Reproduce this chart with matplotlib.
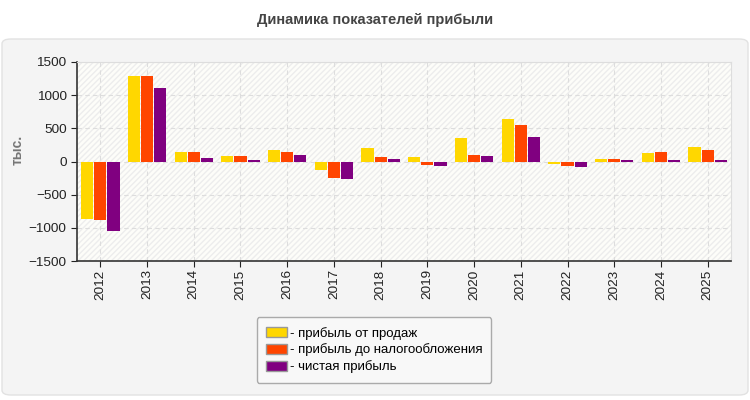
import numpy as np
import matplotlib.pyplot as plt
from matplotlib.patches import FancyBboxPatch, Rectangle, Patch

plt.rcParams['font.family'] = ['Liberation Sans', 'DejaVu Sans']

years = ['2012', '2013', '2014', '2015', '2016', '2017', '2018',
         '2019', '2020', '2021', '2022', '2023', '2024', '2025']
sales_profit = [-865, 1295, 140, 80, 170, -130, 200, 65, 350, 635, -40, 35, 125, 215]
pretax_profit = [-880, 1295, 140, 80, 140, -250, 65, -55, 95, 545, -70, 35, 140, 170]
net_profit = [-1045, 1115, 50, 20, 95, -265, 35, -70, 80, 365, -85, 20, 20, 20]

series = [
    (sales_profit, '- прибыль от продаж', '#FFD700'),
    (pretax_profit, '- прибыль до налогообложения', '#FF4500'),
    (net_profit, '- чистая прибыль', '#800080'),
]

fig = plt.figure(figsize=(7.5, 4), dpi=100)
fig.patch.set_facecolor('white')

# grey rounded panel behind the chart
panel = FancyBboxPatch((2 / 750, 5 / 400), 746 / 750, 356 / 400,
                       boxstyle='round,pad=0,rounding_size=0.012',
                       transform=fig.transFigure, facecolor='#f4f4f4',
                       edgecolor='#e2e2e2', linewidth=1, zorder=-5)
fig.patches.append(panel)

fig.text(0.5, 1 - 20 / 400, 'Динамика показателей прибыли', ha='center', va='center',
         fontsize=10.5, fontweight='bold', color='#444444')

ax = fig.add_axes([77 / 750, 1 - 261 / 400, 654 / 750, 199 / 400])
ax.set_facecolor('#fdfdf9')
ax.add_patch(Rectangle((0, 0), 1, 1, transform=ax.transAxes, facecolor='none',
                       edgecolor='#ededed', hatch='//////', linewidth=0, zorder=0))

x = np.arange(len(years))
w = 0.26
for i, (vals, label, color) in enumerate(series):
    ax.bar(x + (i - 1) * 0.28, vals, w, color=color, label=label, zorder=3)

ax.set_xlim(-0.5, len(years) - 0.5)
ax.set_ylim(-1500, 1500)
ax.set_yticks(range(-1500, 1501, 500))
ax.set_xticks(x)
ax.set_xticklabels(years, rotation=90)
ax.tick_params(axis='both', labelsize=9.7, colors='#222222', length=4)
ax.tick_params(axis='x', pad=2)

ax.grid(True, linestyle=(0, (4, 3)), color='#dddddd', linewidth=0.8, zorder=1)
ax.set_axisbelow(True)
for s in ['top', 'right']:
    ax.spines[s].set_color('#dddddd')
for s in ['left', 'bottom']:
    ax.spines[s].set_color('#333333')
    ax.spines[s].set_linewidth(1.2)

fig.text(18 / 750, 1 - 150 / 400, 'тыс.', rotation=90, ha='center', va='center',
         fontsize=10, fontweight='bold', color='#777777')

handles = [Patch(facecolor=c, edgecolor='#999999', label=l) for _, l, c in series]
leg = fig.legend(handles=handles, loc='center', bbox_to_anchor=(374 / 750, 1 - 350 / 400),
                 fontsize=9.5, frameon=True, fancybox=True, handlelength=1.6,
                 handleheight=0.8, handletextpad=0.2, labelspacing=0.3,
                 borderpad=0.7, borderaxespad=0)
leg.get_frame().set_facecolor('#f8f8f8')
leg.get_frame().set_edgecolor('#aaaaaa')
leg.get_frame().set_alpha(1)

fig.savefig('out.png', dpi=100)
